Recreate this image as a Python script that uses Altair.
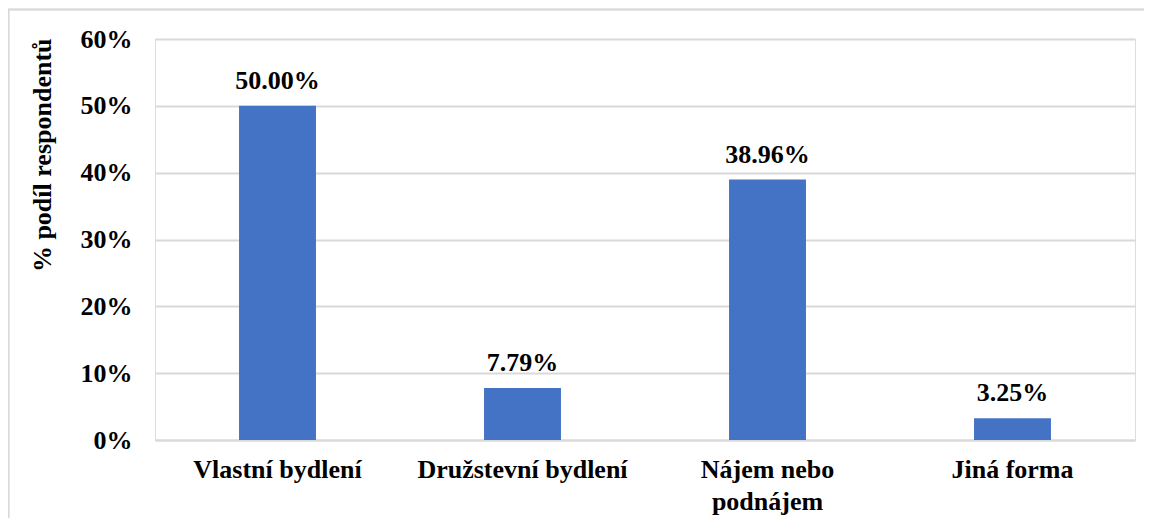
import altair as alt
import pandas as pd

categories = ["Vlastní bydlení", "Družstevní bydlení", "Nájem nebo podnájem", "Jiná forma"]
shares = [0.50, 0.0779, 0.3896, 0.0325]
value_labels = ["50.00%", "7.79%", "38.96%", "3.25%"]

df = pd.DataFrame({"kategorie": categories, "podil": shares, "popisek": value_labels})

FONT = "Liberation Serif"
W, H = 980, 401

x_enc = alt.X(
    "kategorie:N",
    sort=categories,
    scale=alt.Scale(paddingInner=0.686, paddingOuter=0.343),
    axis=alt.Axis(
        title=None,
        labelAngle=0,
        labelFont=FONT,
        labelFontSize=26,
        labelFontWeight="bold",
        labelColor="#000000",
        labelPadding=16,
        labelLineHeight=32,
        labelLimit=400,
        labelExpr="datum.value == 'Nájem nebo podnájem' ? ['Nájem nebo', 'podnájem'] : datum.value",
        ticks=False,
        domain=True,
        domainColor="#d9d9d9",
        domainWidth=2,
        grid=False,
    ),
)

y_enc = alt.Y(
    "podil:Q",
    scale=alt.Scale(domain=[0, 0.6]),
    axis=alt.Axis(
        title="% podíl respondentů",
        titleFont=FONT,
        titleFontSize=26,
        titleFontWeight="bold",
        titleColor="#000000",
        titleAngle=-90,
        titleAlign="right",
        titleBaseline="middle",
        titleX=-113,
        titleY=-1,
        format=".0%",
        values=[0, 0.1, 0.2, 0.3, 0.4, 0.5, 0.6],
        labelFont=FONT,
        labelFontSize=26,
        labelFontWeight="bold",
        labelColor="#000000",
        labelPadding=23,
        ticks=False,
        domain=False,
        grid=True,
        gridColor="#d9d9d9",
        gridWidth=2,
    ),
)

bars = alt.Chart(df).mark_bar(color="#4472C4").encode(x=x_enc, y=y_enc)

labels = alt.Chart(df).mark_text(
    font=FONT, fontSize=26, fontWeight="bold", color="#000000",
    baseline="alphabetic", dy=-17,
).encode(x=alt.X("kategorie:N", sort=categories), y="podil:Q", text="popisek:N")

frame = alt.Chart(df).mark_rect(fill=None, stroke="#d9d9d9", strokeWidth=1.5).encode(
    x=alt.value(-146.5), x2=alt.value(1100), y=alt.value(-29.5), y2=alt.value(600)
)

chart = alt.layer(frame, bars, labels).properties(
    width=W, height=H,
    autosize=alt.AutoSizeParams(type="none"),
    padding={"left": 147, "top": 31, "right": 9, "bottom": 78},
).configure_view(stroke=None).configure(background="#ffffff")

chart.save("out.html", embed_options={"renderer": "svg", "actions": False})
